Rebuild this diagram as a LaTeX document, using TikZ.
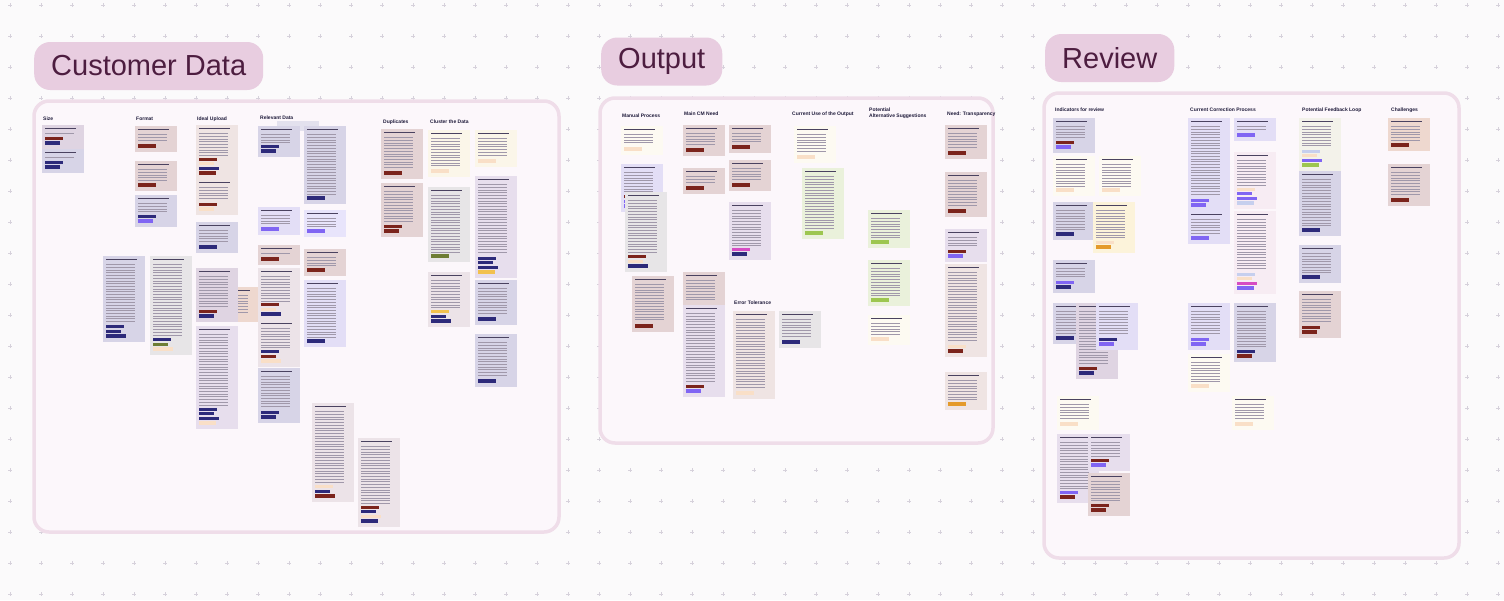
\documentclass[tikz,border=0pt]{standalone}
\usepackage{fontspec}
\setmainfont{Liberation Sans}
\usepackage{xcolor}

\definecolor{boardbg}{HTML}{FBFAFB}
\definecolor{gridmk}{HTML}{D6D1DB}
\definecolor{framefill}{HTML}{FCF7FB}
\definecolor{frameline}{HTML}{EFDDE9}
\definecolor{pillfill}{HTML}{E8CDE0}
\definecolor{pilltext}{HTML}{4D1D40}
\definecolor{headtext}{HTML}{1E1A3A}
% sticky note fills
\definecolor{nrose}{HTML}{E4D3D4}
\definecolor{nmauve}{HTML}{DFD4E2}
\definecolor{nlav}{HTML}{D7D4E7}
\definecolor{nvio}{HTML}{E3DEF6}
\definecolor{nviolt}{HTML}{E8E4FB}
\definecolor{ncream}{HTML}{FBF6E9}
\definecolor{nwhite}{HTML}{FDFAF2}
\definecolor{ngrey}{HTML}{E7E5E7}
\definecolor{npink}{HTML}{ECE3E8}
\definecolor{npeach}{HTML}{EED8CF}
\definecolor{ngreen}{HTML}{EAF1DB}
\definecolor{nlilac}{HTML}{E7DEED}
\definecolor{nblush}{HTML}{EFE4E3}
\definecolor{nblushw}{HTML}{F7ECF3}
\definecolor{nyellow}{HTML}{FCF3DA}
\definecolor{nsage}{HTML}{F3F2EA}
% tag chips
\definecolor{tred}{HTML}{7B241C}
\definecolor{tnavy}{HTML}{2D2A7A}
\definecolor{tviolet}{HTML}{8065F3}
\definecolor{tcream}{HTML}{F9DFC7}
\definecolor{tolive}{HTML}{6E7D34}
\definecolor{tyellow}{HTML}{F2C14E}
\definecolor{tpink}{HTML}{D64CC3}
\definecolor{tgreen}{HTML}{9DC650}
\definecolor{tblue}{HTML}{C6CFEE}
\definecolor{torange}{HTML}{E49A2B}
\definecolor{headbar}{HTML}{4A4260}
\definecolor{bodybar}{HTML}{A098AA}

% sticky note: x, y, height, fill, number of tags, tag colours
\newcommand\stick[6]{%
  \fill[#4] (#1,#2) rectangle ++(42,#3);
  \fill[headbar] ({#1+3},{#2+3.3}) rectangle ++(31,1.0);
  \pgfmathtruncatemacro\nlines{(#3-11-4.6*#5)/2.7}
  \ifnum\nlines>0
    \foreach \k in {1,...,\nlines}{\fill[bodybar] ({#1+3},{#2+5.6+2.7*\k}) rectangle ++({29+mod(\k*7,7)},0.55);}
  \fi
  \ifnum#5>0
    \foreach \c [count=\i] in {#6}{\fill[\c] ({#1+3},{#2+#3-3-4.6*(#5-\i+1)}) rectangle ++({13+mod(\i*5,8)},3.2);}
  \fi
}

\begin{document}
\begin{tikzpicture}[x=1pt,y=-1pt,
  frame/.style={draw=frameline,fill=framefill,line width=3.5,rounded corners=15},
  pill/.style={fill=pillfill,text=pilltext,rounded corners=16,minimum height=48,inner xsep=17,anchor=west,font=\fontsize{29}{30}\selectfont},
  colhead/.style={anchor=west,inner sep=0,text=headtext,font=\bfseries\fontsize{5}{6}\selectfont,align=left}]
\useasboundingbox (0,0) rectangle (1504,600);
\fill[boardbg] (0,0) rectangle (1504,600);

% dot grid
\foreach \i in {0,...,48}
  \foreach \j in {0,...,19}
    \draw[gridmk,line width=0.6] ({10+31*\i-2},{5+31*\j}) -- ++(4,0) ({10+31*\i},{5+31*\j-2}) -- ++(0,4);

% frames
\draw[frame] (34,101) rectangle (559,532);
\draw[frame] (600,98) rectangle (993,443);
\draw[frame] (1044,93) rectangle (1459,558);

% titles
\node[pill] (custTitle) at (34,66) {Customer Data};
\node[pill] (outTitle) at (601,61.5) {Output};
\node[pill] (revTitle) at (1045,58) {Review};

% Customer Data columns
\node[colhead] (hSize) at (43,119) {Size};
\node[colhead] (hFormat) at (136,119) {Format};
\node[colhead] (hUpload) at (197,119) {Ideal Upload};
\node[colhead] (hRelevant) at (260,118) {Relevant Data};
\node[colhead] (hDupl) at (383,122) {Duplicates};
\node[colhead] (hCluster) at (430,122) {Cluster the Data};

\stick{42}{125}{24}{nmauve}{2}{tred,tnavy}
\stick{42}{149}{24}{nlav}{2}{tnavy,tnavy}
\stick{135}{126}{26}{nrose}{1}{tred}
\stick{135}{161}{30}{nrose}{1}{tred}
\stick{135}{195}{32}{nlav}{2}{tnavy,tviolet}
\stick{196}{125}{54}{nblush}{4}{tred,tcream,tnavy,tred}
\stick{196}{179}{36}{nblush}{2}{tred,tcream}
\stick{196}{222}{31}{nlav}{1}{tnavy}
\stick{216}{287}{35}{npeach}{1}{tred}
\stick{196}{268}{54}{nmauve}{2}{tred,tnavy}
\stick{196}{326}{103}{nlilac}{4}{tnavy,tnavy,tnavy,tcream}
\stick{103}{256}{86}{nlav}{3}{tnavy,tnavy,tnavy}
\stick{150}{256}{99}{ngrey}{3}{tnavy,tolive,tcream}
\fill[nlav!70] (277,121) rectangle ++(42,10);
\stick{258}{126}{31}{nlav}{2}{tnavy,tnavy}
\stick{304}{126}{78}{nlav}{1}{tnavy}
\stick{258}{207}{28}{nvio}{1}{tviolet}
\stick{304}{210}{27}{nviolt}{1}{tviolet}
\stick{258}{245}{20}{nrose}{1}{tred}
\stick{304}{249}{27}{nrose}{1}{tred}
\stick{258}{268}{52}{npink}{3}{tred,tcream,tnavy}
\stick{258}{320}{47}{npink}{3}{tnavy,tred,tcream}
\stick{304}{280}{67}{nvio}{1}{tnavy}
\stick{258}{368}{55}{nlav}{2}{tnavy,tnavy}
\stick{312}{403}{99}{npink}{3}{tcream,tnavy,tred}
\stick{358}{438}{89}{npink}{4}{tred,tnavy,tcream,tnavy}
\stick{381}{129}{50}{nrose}{1}{tred}
\stick{381}{183}{54}{nrose}{2}{tred,tred}
\stick{428}{130}{47}{ncream}{1}{tcream}
\stick{475}{130}{37}{ncream}{1}{tcream}
\stick{428}{187}{75}{ngrey}{1}{tolive}
\stick{475}{176}{102}{nlilac}{4}{tnavy,tnavy,tnavy,tyellow}
\stick{428}{272}{55}{npink}{3}{tyellow,tnavy,tnavy}
\stick{475}{280}{45}{nlav}{1}{tnavy}
\stick{475}{334}{53}{nlav}{1}{tnavy}

% Output columns
\node[colhead] (hManual) at (622,116) {Manual Process};
\node[colhead] (hMainCM) at (684,114) {Main CM Need};
\node[colhead] (hCurrent) at (792,114) {Current Use of the Output};
\node[colhead] (hPotAlt) at (869,113) {Potential\\Alternative Suggestions};
\node[colhead] (hTransp) at (947,114) {Need: Transparency};
\node[colhead] (hError) at (734,303) {Error Tolerance};

\stick{621}{126}{29}{nwhite}{1}{tcream}
\stick{621}{164}{48}{nvio}{3}{tred,tviolet,tviolet}
\stick{625}{192}{80}{ngrey}{3}{tred,tcream,tnavy}
\stick{632}{276}{56}{nrose}{1}{tred}
\stick{683}{125}{31}{nrose}{1}{tred}
\stick{729}{125}{28}{nrose}{1}{tred}
\stick{683}{168}{26}{nrose}{1}{tred}
\stick{729}{160}{31}{nrose}{1}{tred}
\stick{729}{202}{58}{nlilac}{2}{tpink,tnavy}
\stick{683}{272}{33}{nrose}{0}{}
\stick{683}{305}{92}{nlilac}{2}{tred,tviolet}
\stick{733}{311}{88}{nblush}{1}{tcream}
\stick{779}{311}{37}{ngrey}{1}{tnavy}
\stick{794}{126}{37}{nwhite}{1}{tcream}
\stick{802}{168}{71}{ngreen}{1}{tgreen}
\stick{868}{210}{38}{ngreen}{1}{tgreen}
\stick{868}{260}{46}{ngreen}{1}{tgreen}
\stick{868}{315}{30}{nwhite}{1}{tcream}
\stick{945}{125}{34}{nrose}{1}{tred}
\stick{945}{172}{45}{nrose}{1}{tred}
\stick{945}{229}{33}{nlilac}{2}{tred,tviolet}
\stick{945}{264}{93}{nblush}{2}{tcream,tred}
\stick{945}{372}{38}{nblush}{1}{torange}

% Review columns
\node[colhead] (hIndic) at (1055,110) {Indicators for review};
\node[colhead] (hCorr) at (1190,110) {Current Correction Process};
\node[colhead] (hLoop) at (1302,110) {Potential Feedback Loop};
\node[colhead] (hChall) at (1391,110) {Challenges};

\stick{1053}{118}{35}{nlav}{2}{tred,tviolet}
\stick{1053}{156}{40}{nwhite}{1}{tcream}
\stick{1099}{156}{40}{nwhite}{1}{tcream}
\stick{1053}{202}{38}{nlav}{1}{tnavy}
\stick{1093}{202}{51}{nyellow}{2}{tcream,torange}
\stick{1053}{260}{33}{nlav}{2}{tviolet,tnavy}
\stick{1053}{303}{41}{nlav}{1}{tnavy}
\stick{1076}{303}{76}{nmauve}{2}{tred,tnavy}
\stick{1096}{303}{47}{nvio}{2}{tnavy,tviolet}
\stick{1057}{396}{34}{nwhite}{1}{tcream}
\stick{1057}{434}{69}{nlilac}{2}{tviolet,tred}
\stick{1088}{434}{37}{nlilac}{2}{tred,tviolet}
\stick{1088}{473}{43}{nrose}{2}{tred,tred}
\stick{1188}{118}{93}{nvio}{2}{tviolet,tviolet}
\stick{1188}{211}{33}{nvio}{1}{tviolet}
\stick{1234}{118}{23}{nvio}{1}{tviolet}
\stick{1234}{152}{57}{nblushw}{4}{tcream,tviolet,tviolet,tblue}
\stick{1234}{211}{83}{nblushw}{4}{tblue,tcream,tpink,tviolet}
\stick{1188}{303}{47}{nvio}{2}{tviolet,tviolet}
\stick{1234}{303}{59}{nlav}{2}{tnavy,tred}
\stick{1188}{354}{38}{nwhite}{1}{tcream}
\stick{1232}{396}{34}{nwhite}{1}{tcream}
\stick{1299}{118}{53}{nsage}{4}{tblue,tcream,tviolet,tgreen}
\stick{1299}{171}{65}{nlav}{1}{tnavy}
\stick{1299}{245}{38}{nlav}{1}{tnavy}
\stick{1299}{291}{47}{nrose}{2}{tred,tred}
\stick{1388}{118}{33}{npeach}{1}{tred}
\stick{1388}{164}{42}{nrose}{1}{tred}

\end{tikzpicture}
\end{document}
